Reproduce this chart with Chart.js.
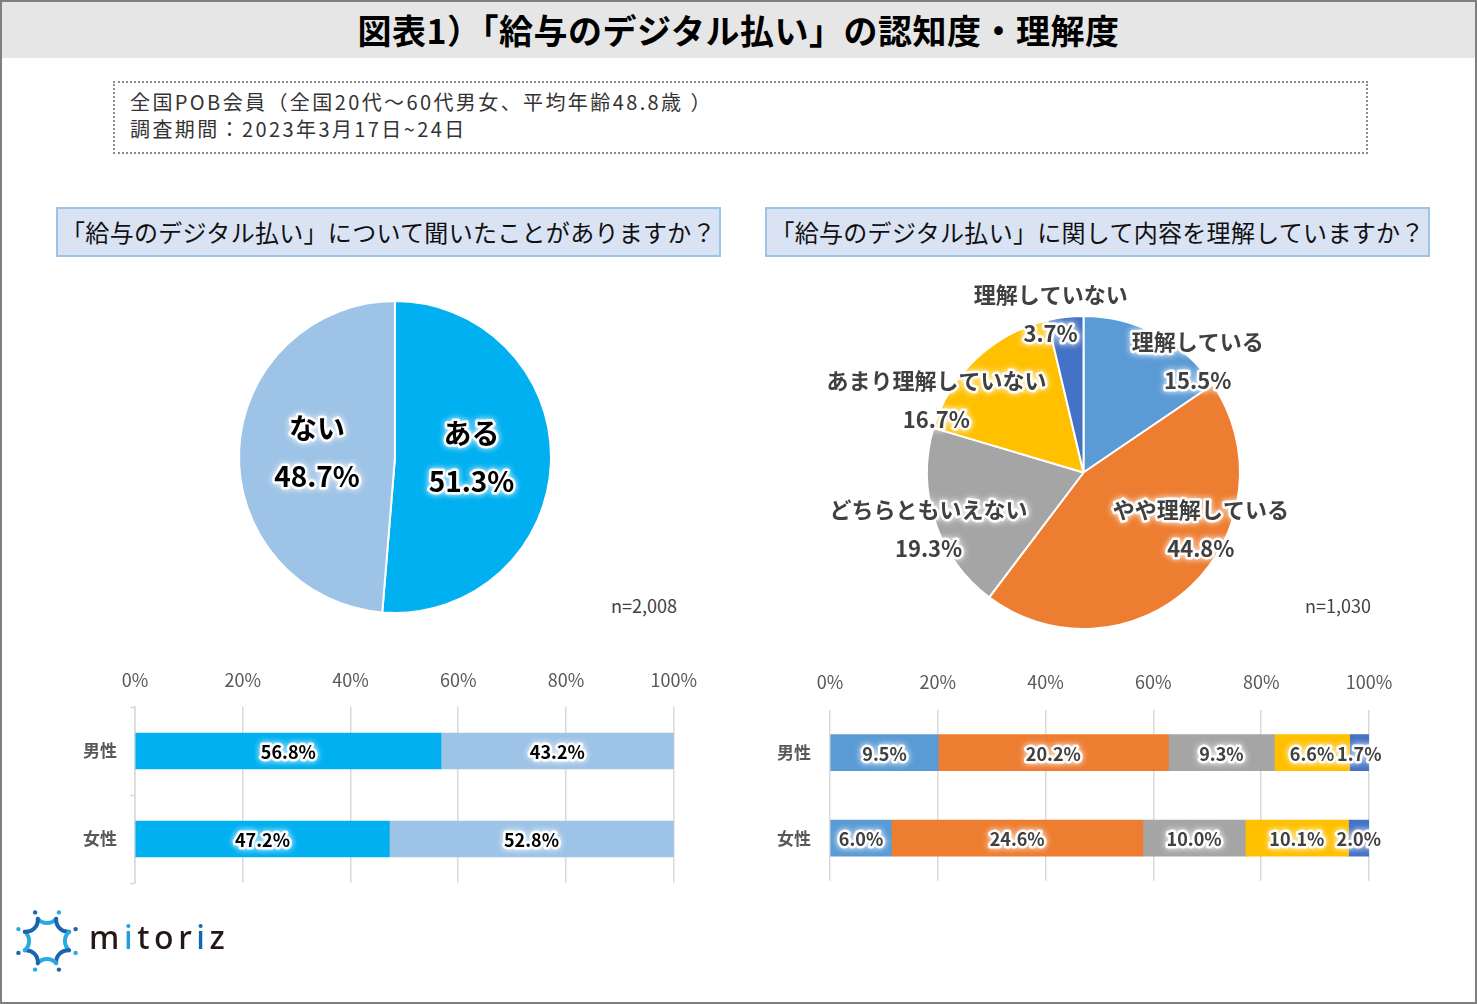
<!DOCTYPE html>
<html lang="ja">
<head>
<meta charset="utf-8">
<script src="https://cdn.jsdelivr.net/npm/chart.js@4.4.0/dist/chart.umd.min.js"></script>
<style>
html, body { margin: 0; padding: 0; background: #fff; }
body { width: 1477px; height: 1004px; position: relative; overflow: hidden;
       font-family: "Noto Sans CJK JP", "Noto Sans", sans-serif; }
#frame { position: absolute; left: 0; top: 0; width: 1473px; height: 1000px; border: 2px solid #7f7f7f; }
#title { position: absolute; left: 2px; top: 2px; width: 1473px; height: 56px; background: #e7e6e6;
         text-align: center; font-weight: bold; font-size: 34px; line-height: 56px; color: #000; letter-spacing: 0.5px; }
#info { position: absolute; left: 113px; top: 81px; width: 1236px; height: 64px; padding: 5px 0 0 15px;
        border: 2px dotted #8c8c8c; font-size: 20px; line-height: 27px; color: #333; letter-spacing: 2.4px; }
.q { position: absolute; top: 207px; width: 661px; height: 46px; background: #dae3f3; white-space: nowrap;
     border: 2px solid #9dc3e6; font-size: 24px; line-height: 46px; text-align: center; color: #111;
     letter-spacing: 0.3px; }
.box { position: absolute; }
.n { position: absolute; font-size: 18px; color: #404040; }
#logo { position: absolute; left: 0; top: 900px; }
#logotext { position: absolute; left: 89px; top: 917px; font-family: "Noto Sans", sans-serif; font-size: 32px;
            font-weight: 500; letter-spacing: 4.6px; color: #231815; line-height: 40px; }
</style>
</head>
<body>
<div id="frame"></div>
<div id="title">図表1）「給与のデジタル払い」の認知度・理解度</div>
<div id="info">全国POB会員（全国20代～60代男女、平均年齢48.8歳 ）<br>調査期間：2023年3月17日~24日</div>
<div class="q" style="left:56px;">「給与のデジタル払い」について聞いたことがありますか？</div>
<div class="q" style="left:765px;">「給与のデジタル払い」に関して内容を理解していますか？</div>

<div class="box" style="left:215px;top:277px;width:360px;height:360px;"><canvas id="pieAware"></canvas></div>
<div class="box" style="left:790px;top:262px;width:520px;height:400px;"><canvas id="pieUnder"></canvas></div>
<div class="box" style="left:40px;top:650px;width:673px;height:260px;"><canvas id="barAware"></canvas></div>
<div class="box" style="left:740px;top:650px;width:700px;height:260px;"><canvas id="barUnder"></canvas></div>

<div class="n" style="left:611px;top:592px;">n=2,008</div>
<div class="n" style="left:1305px;top:592px;">n=1,030</div>

<svg id="logo" width="100" height="85" viewBox="0 900 100 85">
  <g fill="none" stroke-width="4" stroke-linecap="round">
    <path d="M37.8 918.8 A12 12 0 0 0 56.2 918.8" stroke="#29abe2"/>
    <path d="M56.2 918.8 A12 12 0 0 0 69.2 931.8" stroke="#1b64b0"/>
    <path d="M69.2 931.8 A12 12 0 0 0 69.2 950.2" stroke="#29abe2"/>
    <path d="M69.2 950.2 A12 12 0 0 0 56.2 963.2" stroke="#1b64b0"/>
    <path d="M56.2 963.2 A12 12 0 0 0 37.8 963.2" stroke="#29abe2"/>
    <path d="M37.8 963.2 A12 12 0 0 0 24.8 950.2" stroke="#1b64b0"/>
    <path d="M24.8 950.2 A12 12 0 0 0 24.8 931.8" stroke="#29abe2"/>
    <path d="M24.8 931.8 A12 12 0 0 0 37.8 918.8" stroke="#1b64b0"/>
  </g>
  <circle cx="35.1" cy="912.4" r="2.2" fill="#1b64b0"/>
  <circle cx="58.9" cy="912.4" r="2.2" fill="#29abe2"/>
  <circle cx="75.6" cy="929.1" r="2.2" fill="#1b64b0"/>
  <circle cx="75.6" cy="952.9" r="2.2" fill="#29abe2"/>
  <circle cx="58.9" cy="969.6" r="2.2" fill="#1b64b0"/>
  <circle cx="35.1" cy="969.6" r="2.2" fill="#29abe2"/>
  <circle cx="18.4" cy="952.9" r="2.2" fill="#1b64b0"/>
  <circle cx="18.4" cy="929.1" r="2.2" fill="#29abe2"/>
</svg>
<div id="logotext">m<span style="color:#1ea0dc">i</span>tor<span style="color:#1565b5">i</span>z</div>

<script>
// values
var awarenessLabels = ['ある', 'ない'];
var awarenessValues = [51.3, 48.7];

var understandingLabels = ['理解している', 'やや理解している', 'どちらともいえない', 'あまり理解していない', '理解していない'];
var understandingValues = [15.5, 44.8, 19.3, 16.7, 3.7];

var genderLabels = ['男性', '女性'];
var awarenessYes = [56.8, 47.2];   // ある  (男性, 女性)
var awarenessNo = [43.2, 52.8];    // ない
var understandingMale = [9.5, 20.2, 9.3, 6.6, 1.7];
var understandingFemale = [6.0, 24.6, 10.0, 10.1, 2.0];

var awarenessColors = ['#00b0f0', '#9dc3e6'];
var understandingColors = ['#5b9bd5', '#ed7d31', '#a5a5a5', '#ffc000', '#4472c4'];

var JP = '"Noto Sans CJK JP", "Noto Sans", sans-serif';

function glowText(ctx, text, x, y, color) {
    ctx.save();
    ctx.lineJoin = 'round';
    ctx.strokeStyle = 'rgba(255,255,255,0.95)';
    ctx.shadowColor = '#fff';
    ctx.shadowBlur = 6;
    ctx.lineWidth = 5;
    ctx.strokeText(text, x, y);
    ctx.shadowBlur = 0;
    ctx.fillStyle = color;
    ctx.fillText(text, x, y);
    ctx.restore();
}

// slice labels: name + value, placed relative to the pie centre in units of radius
var sliceLabels = {
    id: 'sliceLabels',
    afterDatasetsDraw: function(chart, args, opts) {
        var ctx = chart.ctx;
        var meta = chart.getDatasetMeta(0);
        var ds = chart.data.datasets[0];
        ctx.save();
        ctx.font = 'bold ' + opts.size + 'px ' + JP;
        ctx.textAlign = 'center';
        ctx.textBaseline = 'middle';
        meta.data.forEach(function(arc, i) {
            var r = arc.outerRadius;
            var cx = arc.x + opts.offsets[i][0] * r;
            var cy = arc.y + opts.offsets[i][1] * r;
            glowText(ctx, chart.data.labels[i], cx, cy - opts.gap / 2, opts.color);
            glowText(ctx, ds.data[i].toFixed(1) + '%', cx, cy + opts.gap / 2, opts.color);
        });
        ctx.restore();
    }
};

// bar labels: raw value centred in each segment
var barLabels = {
    id: 'barLabels',
    afterDatasetsDraw: function(chart, args, opts) {
        var ctx = chart.ctx;
        ctx.save();
        ctx.font = 'bold 18px ' + JP;
        ctx.textAlign = 'center';
        ctx.textBaseline = 'middle';
        chart.data.datasets.forEach(function(ds, di) {
            chart.getDatasetMeta(di).data.forEach(function(bar, i) {
                var v = ds.raw ? ds.raw[i] : ds.data[i];
                glowText(ctx, v.toFixed(1) + '%', (bar.x + bar.base) / 2, bar.y + 1, opts.color);
            });
        });
        ctx.restore();
    }
};

Chart.defaults.font.family = JP;
Chart.defaults.animation = false;
Chart.defaults.plugins.legend.display = false;
Chart.defaults.plugins.tooltip.enabled = false;

new Chart(document.getElementById('pieAware'), {
    type: 'pie',
    data: {
        labels: awarenessLabels,
        datasets: [{ data: awarenessValues, backgroundColor: awarenessColors, borderColor: '#fff', borderWidth: 2 }]
    },
    options: {
        responsive: true, maintainAspectRatio: false,
        layout: { padding: 23 },
        plugins: {
            sliceLabels: { size: 28, gap: 48, color: '#000', offsets: [[0.49, 0], [-0.5, -0.03]] }
        }
    },
    plugins: [sliceLabels]
});

new Chart(document.getElementById('pieUnder'), {
    type: 'pie',
    data: {
        labels: understandingLabels,
        datasets: [{ data: understandingValues, backgroundColor: understandingColors, borderColor: '#fff', borderWidth: 2 }]
    },
    options: {
        responsive: true, maintainAspectRatio: false,
        layout: { padding: { left: 136, right: 69, top: 53, bottom: 32 } },
        plugins: {
            sliceLabels: {
                size: 22, gap: 39, color: '#404040',
                offsets: [[0.73, -0.71], [0.75, 0.36], [-0.99, 0.36], [-0.94, -0.46], [-0.21, -1.01]]
            }
        }
    },
    plugins: [sliceLabels]
});

function barOptions(yWidth, xHeight, pad, tickPad, yTicks, yPad, axisLine, labelColor) {
    return {
        indexAxis: 'y',
        responsive: true, maintainAspectRatio: false,
        layout: { padding: pad },
        scales: {
            x: {
                position: 'top', stacked: true, min: 0, max: 100,
                ticks: { stepSize: 20, callback: function(v) { return v + '%'; },
                         font: { size: 18 }, color: '#595959', padding: tickPad },
                grid: { color: '#d9d9d9', lineWidth: 1.5, drawTicks: false },
                border: { display: false },
                afterFit: function(s) { s.height = xHeight; }
            },
            y: {
                stacked: true,
                ticks: { font: { size: 17, weight: 'bold' }, color: '#595959', padding: yPad },
                grid: yTicks
                    ? { offset: true, drawOnChartArea: false, tickLength: 5, tickColor: '#d9d9d9', tickWidth: 1.5 }
                    : { display: false, drawTicks: false },
                border: { display: axisLine, color: '#d9d9d9', width: 1.5 },
                afterFit: function(s) { s.width = yWidth; }
            }
        },
        plugins: { barLabels: { color: labelColor } }
    };
}

new Chart(document.getElementById('barAware'), {
    type: 'bar',
    data: {
        labels: genderLabels,
        datasets: [
            { label: awarenessLabels[0], data: awarenessYes, backgroundColor: awarenessColors[0], barThickness: 36 },
            { label: awarenessLabels[1], data: awarenessNo, backgroundColor: awarenessColors[1], barThickness: 36 }
        ]
    },
    options: barOptions(95, 57, { left: 0, right: 25, top: 0, bottom: 27 }, 16, true, 13, true, '#000'),
    plugins: [barLabels]
});

// the bars fill 100% of each row; the labels keep the values printed in the figure
var maleSum = understandingMale.reduce(function(a, b) { return a + b; }, 0);
var femaleSum = understandingFemale.reduce(function(a, b) { return a + b; }, 0);
var underDatasets = understandingLabels.map(function(name, i) {
    return {
        label: name,
        data: [understandingMale[i] / maleSum * 100, understandingFemale[i] / femaleSum * 100],
        raw: [understandingMale[i], understandingFemale[i]],
        backgroundColor: understandingColors[i],
        barThickness: 36
    };
});

new Chart(document.getElementById('barUnder'), {
    type: 'bar',
    data: { labels: genderLabels, datasets: underDatasets },
    options: barOptions(90, 60, { left: 0, right: 71, top: 0, bottom: 25 }, 17, false, 19, false, '#404040'),
    plugins: [barLabels]
});
</script>
</body>
</html>
